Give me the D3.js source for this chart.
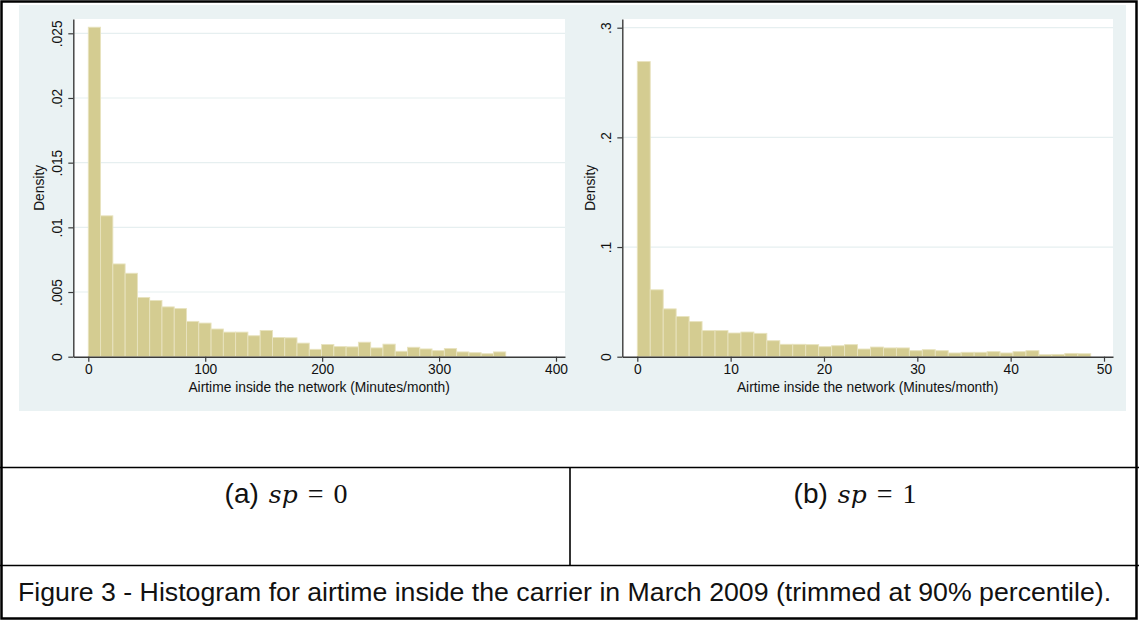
<!DOCTYPE html>
<html>
<head>
<meta charset="utf-8">
<script src="https://cdn.jsdelivr.net/npm/d3@7"></script>
<style>
  html, body { margin: 0; padding: 0; background: #ffffff; }
  svg { display: block; }
  text { font-family: "Liberation Sans", Arial, sans-serif; fill: #111; }
</style>
</head>
<body>
<svg id="chart" width="1139" height="620"></svg>
<script>
// ---------------- DATA ----------------
// Panel (a) sp = 0 : airtime 0..357 minutes, 34 bins
const leftBinWidth = 10.5;
const leftDensity = [
  0.02547, 0.01089, 0.00717, 0.00645, 0.00458, 0.00435, 0.00385, 0.00372,
  0.00273, 0.00260, 0.00214, 0.00190, 0.00190, 0.00162, 0.00203, 0.00148,
  0.00146, 0.00105, 0.00057, 0.00094, 0.00078, 0.00076, 0.00112, 0.00068,
  0.00097, 0.00042, 0.00073, 0.00060, 0.00047, 0.00063, 0.00037, 0.00031,
  0.00023, 0.00037
];
const leftXTicks = [0, 100, 200, 300, 400];
const leftYTicks = [0, 0.005, 0.01, 0.015, 0.02, 0.025];
const leftYTickLabels = ["0", ".005", ".01", ".015", ".02", ".025"];

// Panel (b) sp = 1 : airtime 0..48.6 minutes, 35 bins
const rightBinWidth = 1.388;
const rightDensity = [
  0.2691, 0.0610, 0.0436, 0.0366, 0.0320, 0.0238, 0.0238, 0.0216,
  0.0225, 0.0213, 0.0146, 0.0113, 0.0113, 0.0110, 0.0091, 0.0100,
  0.0110, 0.0070, 0.0088, 0.0080, 0.0080, 0.0055, 0.0064, 0.0055,
  0.0034, 0.0040, 0.0040, 0.0046, 0.0034, 0.0046, 0.0055, 0.0018,
  0.0021, 0.0030, 0.0027
];
const rightXTicks = [0, 10, 20, 30, 40, 50];
const rightYTicks = [0, 0.1, 0.2, 0.3];
const rightYTickLabels = ["0", ".1", ".2", ".3"];

const xTitle = "Airtime inside the network (Minutes/month)";
const yTitle = "Density";
const captionA = ["(a)", "sp", "=", "0"];
const captionB = ["(b)", "sp", "=", "1"];
const figureCaption = "Figure 3 - Histogram for airtime inside the carrier in March 2009 (trimmed at 90% percentile).";

// ---------------- STYLE ----------------
const BG = "#EAF2F3";
const GRID = "#E6EFF0";
const BAR_FILL = "#D4CC91";
const BAR_STROKE = "#E8E3BF";
const AXIS = "#3a3a3a";
const FS = 13.8;

const svg = d3.select("#chart");

function panel(cfg) {
  const g = svg.append("g");
  g.append("rect").attr("x", cfg.bg[0]).attr("y", cfg.bg[1])
    .attr("width", cfg.bg[2]).attr("height", cfg.bg[3]).attr("fill", BG);
  g.append("rect").attr("x", cfg.plot[0]).attr("y", cfg.plot[1])
    .attr("width", cfg.plot[2] - cfg.plot[0]).attr("height", cfg.plot[3] - cfg.plot[1])
    .attr("fill", "#ffffff");

  const x = d3.scaleLinear().domain(cfg.xDomain).range([cfg.plot[0], cfg.plot[2]]);
  const y = d3.scaleLinear().domain(cfg.yDomain).range([cfg.plot[3], cfg.plot[1]]);

  g.append("g").selectAll("line").data(cfg.yTicks.filter(d => d > 0)).join("line")
    .attr("x1", cfg.plot[0]).attr("x2", cfg.plot[2])
    .attr("y1", d => y(d)).attr("y2", d => y(d))
    .attr("stroke", GRID).attr("stroke-width", 1.2);

  const bins = cfg.density.map((d, i) => ({ x0: i * cfg.binWidth, x1: (i + 1) * cfg.binWidth, v: d }));
  g.append("g").selectAll("rect").data(bins).join("rect")
    .attr("x", d => x(d.x0))
    .attr("y", d => y(d.v))
    .attr("width", d => x(d.x1) - x(d.x0))
    .attr("height", d => y(0) - y(d.v))
    .attr("fill", BAR_FILL)
    .attr("stroke", BAR_STROKE)
    .attr("stroke-width", 0.9);

  const xa = g.append("g").attr("transform", `translate(0,${cfg.plot[3]})`)
    .call(d3.axisBottom(x).tickValues(cfg.xTicks).tickSize(5).tickSizeOuter(0).tickPadding(3).tickFormat(d3.format("d")));
  xa.select(".domain").attr("stroke", AXIS).attr("stroke-width", 1.4);
  xa.selectAll(".tick line").attr("stroke", AXIS).attr("stroke-width", 1.2);
  xa.selectAll(".tick text").attr("font-size", FS).attr("font-family", "Liberation Sans, Arial, sans-serif").attr("fill", "#111");

  const ya = g.append("g").attr("transform", `translate(${cfg.plot[0]},0)`)
    .call(d3.axisLeft(y).tickValues(cfg.yTicks).tickSize(5).tickSizeOuter(0)
      .tickFormat((d, i) => cfg.yLabels[i]));
  ya.select(".domain").attr("stroke", AXIS).attr("stroke-width", 1.4);
  ya.selectAll(".tick line").attr("stroke", AXIS).attr("stroke-width", 1.2);
  ya.selectAll(".tick text")
    .attr("font-size", FS).attr("font-family", "Liberation Sans, Arial, sans-serif").attr("fill", "#111")
    .attr("x", null).attr("dy", null)
    .attr("text-anchor", "middle")
    .attr("transform", `translate(${-cfg.yLabelOffset},0) rotate(-90)`)
    .attr("y", 0);

  g.append("text").attr("x", (cfg.plot[0] + cfg.plot[2]) / 2).attr("y", cfg.plot[3] + 35)
    .attr("text-anchor", "middle").attr("font-size", FS).text(xTitle);
  g.append("text")
    .attr("transform", `translate(${cfg.yTitleX},${(cfg.plot[1] + cfg.plot[3]) / 2}) rotate(-90)`)
    .attr("text-anchor", "middle").attr("font-size", FS).text(yTitle);
}

const lxPerUnit = (556 - 88.3) / 400;
const lyPerUnit = (356.7 - 33.3) / 0.025;
panel({
  bg: [19, 5, 551, 406],
  plot: [73.3, 19, 565, 356.7],
  xDomain: [(73.3 - 88.3) / lxPerUnit, (565 - 88.3) / lxPerUnit],
  yDomain: [0, (356.7 - 19) / lyPerUnit],
  density: leftDensity, binWidth: leftBinWidth,
  xTicks: leftXTicks, yTicks: leftYTicks, yLabels: leftYTickLabels,
  yLabelOffset: 11, yTitleX: 44
});

const rxPerUnit = (1104 - 637.3) / 50;
const ryPerUnit = (356.7 - 27.7) / 0.3;
panel({
  bg: [570, 5, 556, 406],
  plot: [622.3, 19, 1113, 356.7],
  xDomain: [(622.3 - 637.3) / rxPerUnit, (1113 - 637.3) / rxPerUnit],
  yDomain: [0, (356.7 - 19) / ryPerUnit],
  density: rightDensity, binWidth: rightBinWidth,
  xTicks: rightXTicks, yTicks: rightYTicks, yLabels: rightYTickLabels,
  yLabelOffset: 11, yTitleX: 595
});

// ---------------- TABLE FRAME ----------------
const frame = svg.append("g").attr("stroke", "#000").attr("fill", "none");
frame.append("rect").attr("x", 1.5).attr("y", 1.5).attr("width", 1135).attr("height", 617).attr("stroke-width", 2.5);
frame.append("line").attr("x1", 0).attr("x2", 1139).attr("y1", 467.5).attr("y2", 467.5).attr("stroke-width", 1.6);
frame.append("line").attr("x1", 0).attr("x2", 1139).attr("y1", 565.5).attr("y2", 565.5).attr("stroke-width", 1.6);
frame.append("line").attr("x1", 570).attr("x2", 570).attr("y1", 467).attr("y2", 566).attr("stroke-width", 1.6);

// captions
function subCaption(parts, cx) {
  const t = svg.append("text").attr("x", cx).attr("y", 503).attr("text-anchor", "middle")
    .attr("font-size", 28);
  t.append("tspan").attr("font-family", "Liberation Sans, Arial, sans-serif").text(parts[0]);
  t.append("tspan").attr("dx", 10).attr("font-family", "DejaVu Serif, Liberation Serif, serif").attr("font-style", "italic").attr("font-size", 25).text(parts[1]);
  t.append("tspan").attr("dx", 10).attr("font-family", "Liberation Serif, DejaVu Serif, serif").text(parts[2]);
  t.append("tspan").attr("dx", 10).attr("font-family", "Liberation Serif, DejaVu Serif, serif").text(parts[3]);
}
subCaption(captionA, 286);
subCaption(captionB, 855);

const fc = svg.append("text").attr("x", 18).attr("y", 601).attr("font-size", 24).text(figureCaption);
const w = fc.node().getComputedTextLength();
fc.attr("font-size", 24 * 1094 / w);
</script>
</body>
</html>
